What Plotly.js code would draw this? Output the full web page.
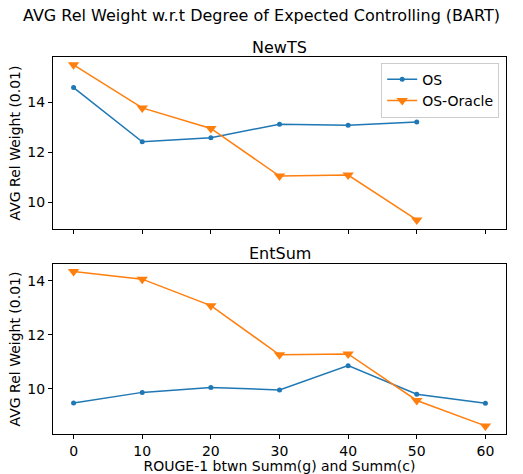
<!DOCTYPE html>
<html>
<head>
<meta charset="utf-8">
<script src="https://cdn.plot.ly/plotly-3.0.1.min.js"></script>
<style>html,body{margin:0;padding:0;background:#fff;}</style>
</head>
<body>
<div id="chart" style="width:523px;height:474px;"></div>
<script>
const newtsX = [0, 10, 20, 30, 40, 50];
const newtsOS = [14.58, 12.42, 12.58, 13.12, 13.08, 13.21];
const newtsOracle = [15.49, 13.77, 12.95, 11.05, 11.09, 9.30];

const entsumX = [0, 10, 20, 30, 40, 50, 60];
const entsumOS = [9.48, 9.87, 10.05, 9.96, 10.86, 9.80, 9.47];
const entsumOracle = [14.34, 14.06, 13.08, 11.26, 11.29, 9.57, 8.63];

const xTicks = [0, 10, 20, 30, 40, 50, 60];
const names = ['OS', 'OS-Oracle'];
const blue = '#1f77b4', orange = '#ff7f0e';
const F = 'DejaVu Sans, sans-serif';

const traces = [
  {x: newtsX, y: newtsOS, name: names[0], mode: 'lines+markers', line: {color: blue, width: 1.5}, marker: {symbol: 'circle', size: 5, color: blue}, xaxis: 'x', yaxis: 'y', legendgroup: 'a'},
  {x: newtsX, y: newtsOracle, name: names[1], mode: 'lines+markers', line: {color: orange, width: 1.5}, marker: {symbol: 'triangle-down', size: 10, color: orange}, xaxis: 'x', yaxis: 'y', legendgroup: 'b'},
  {x: entsumX, y: entsumOS, name: names[0], mode: 'lines+markers', line: {color: blue, width: 1.5}, marker: {symbol: 'circle', size: 5, color: blue}, xaxis: 'x2', yaxis: 'y2', showlegend: false},
  {x: entsumX, y: entsumOracle, name: names[1], mode: 'lines+markers', line: {color: orange, width: 1.5}, marker: {symbol: 'triangle-down', size: 10, color: orange}, xaxis: 'x2', yaxis: 'y2', showlegend: false}
];

const axCommon = {showline: true, mirror: true, linecolor: 'black', linewidth: 1, ticks: 'outside', ticklen: 4, tickcolor: 'black', showgrid: false, zeroline: false, tickfont: {family: F, size: 14, color: 'black'}};

const layout = {
  width: 523, height: 474,
  margin: {l: 53, r: 17, t: 57, b: 40},
  paper_bgcolor: 'white', plot_bgcolor: 'white',
  font: {family: F, color: 'black'},
  title: {text: 'AVG Rel Weight w.r.t Degree of Expected Controlling (BART)', font: {family: F, size: 16, color: 'black'}, x: 0.5, xanchor: 'center', y: 0.968, yanchor: 'middle'},
  xaxis: Object.assign({}, axCommon, {domain: [0, 1], anchor: 'y', range: [-3, 63], tickvals: xTicks, showticklabels: false, matches: 'x2'}),
  yaxis: Object.assign({}, axCommon, {domain: [0.5438, 1], anchor: 'x', range: [8.94, 15.80], tickvals: [10, 12, 14], title: {text: 'AVG Rel Weight (0.01)', font: {family: F, size: 14}, standoff: 3}}),
  xaxis2: Object.assign({}, axCommon, {domain: [0, 1], anchor: 'y2', range: [-3, 63], tickvals: xTicks, title: {text: 'ROUGE-1 btwn Summ(g) and Summ(c)', font: {family: F, size: 14}, standoff: 3}}),
  yaxis2: Object.assign({}, axCommon, {domain: [0, 0.4509], anchor: 'x2', range: [8.33, 14.62], tickvals: [10, 12, 14], title: {text: 'AVG Rel Weight (0.01)', font: {family: F, size: 14}, standoff: 3}}),
  legend: {x: 0.985, y: 0.985, xref: 'paper', yref: 'paper', xanchor: 'right', yanchor: 'top', bgcolor: 'rgba(255,255,255,0.8)', bordercolor: '#cccccc', borderwidth: 1, font: {family: F, size: 14, color: 'black'}, tracegroupgap: 0},
  showlegend: true,
  annotations: [
    {text: 'NewTS', xref: 'paper', yref: 'paper', x: 0.5, y: 1.0, yshift: 10, xanchor: 'center', yanchor: 'middle', showarrow: false, font: {family: F, size: 16, color: 'black'}},
    {text: 'EntSum', xref: 'paper', yref: 'paper', x: 0.5, y: 0.4509, yshift: 11, xanchor: 'center', yanchor: 'middle', showarrow: false, font: {family: F, size: 16, color: 'black'}}
  ]
};

Plotly.newPlot('chart', traces, layout, {displayModeBar: false, staticPlot: true});
</script>
</body>
</html>
